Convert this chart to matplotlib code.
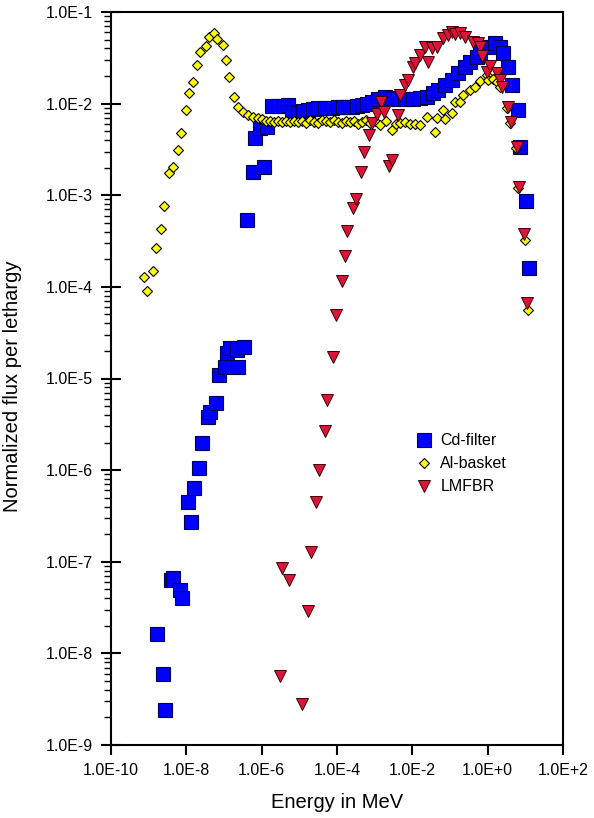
import numpy as np
import matplotlib
matplotlib.use("Agg")
import matplotlib.pyplot as plt
from matplotlib.ticker import FixedLocator, FuncFormatter, LogLocator, NullFormatter

plt.rcParams['font.family'] = ['Liberation Sans', 'DejaVu Sans']

# ---------------- data (Energy in MeV, normalized flux per lethargy) ----------------
cd_energy = [1.67e-9, 2.41e-9, 2.72e-9, 3.94e-9, 4.45e-9, 6.83e-9, 7.71e-9, 1.11e-8, 1.34e-8, 1.61e-8,
             2.18e-8, 2.62e-8, 3.79e-8, 4.28e-8, 6.18e-8, 7.41e-8, 1.07e-7, 1.21e-7, 1.46e-7, 2.23e-7,
             2.37e-7, 3.43e-7, 4.12e-7, 5.94e-7, 1.16e-6, 6.71e-7, 9.12e-7, 1.40e-6, 1.90e-6, 2.75e-6,
             3.96e-6, 5.06e-6, 6.47e-6, 9.33e-6, 1.27e-5, 1.72e-5, 2.34e-5, 3.18e-5, 4.88e-5, 7.48e-5,
             1.08e-4, 1.47e-4, 1.99e-4, 2.54e-4, 3.45e-4, 4.69e-4, 6.37e-4, 8.65e-4, 1.25e-3, 1.91e-3,
             2.94e-3, 4.25e-3, 6.52e-3, 1.06e-2, 1.63e-2, 2.51e-2, 3.61e-2, 4.91e-2, 7.53e-2, 0.116,
             0.167, 0.256, 0.348, 0.535, 0.641, 0.984, 1.61, 2.18, 2.62, 3.56,
             4.55, 6.56, 7.43, 10.7, 12.9]
cd_flux = [1.63e-8, 5.96e-9, 2.41e-9, 6.34e-8, 6.65e-8, 4.92e-8, 4.03e-8, 4.50e-7, 2.72e-7, 6.40e-7,
           1.06e-6, 1.99e-6, 3.82e-6, 4.33e-6, 5.42e-6, 1.10e-5, 1.34e-5, 1.91e-5, 2.16e-5, 2.06e-5,
           1.34e-5, 2.22e-5, 5.41e-4, 1.81e-3, 2.05e-3, 4.25e-3, 5.47e-3, 5.60e-3, 9.50e-3, 9.50e-3,
           9.50e-3, 9.75e-3, 8.17e-3, 7.96e-3, 8.38e-3, 8.59e-3, 8.81e-3, 9.04e-3, 9.04e-3, 9.04e-3,
           9.27e-3, 9.27e-3, 9.27e-3, 9.27e-3, 9.50e-3, 9.75e-3, 1.00e-2, 1.03e-2, 1.11e-2, 1.19e-2,
           1.16e-2, 1.11e-2, 1.13e-2, 1.13e-2, 1.16e-2, 1.19e-2, 1.32e-2, 1.42e-2, 1.61e-2, 1.83e-2,
           2.18e-2, 2.53e-2, 2.87e-2, 3.26e-2, 3.70e-2, 4.19e-2, 4.63e-2, 4.19e-2, 3.60e-2, 2.53e-2,
           1.61e-2, 8.59e-3, 3.39e-3, 8.71e-4, 1.62e-4]

al_energy = [9.06e-10, 7.53e-10, 1.31e-9, 1.57e-9, 2.13e-9, 2.56e-9, 3.48e-9, 4.45e-9, 6.04e-9, 7.24e-9,
             9.84e-9, 1.18e-8, 1.51e-8, 1.93e-8, 2.32e-8, 3.35e-8, 4.03e-8, 5.47e-8, 6.56e-8, 9.48e-8,
             1.14e-7, 1.37e-7, 1.86e-7, 2.37e-7, 3.22e-7, 4.38e-7, 5.94e-7, 8.07e-7,
             1.03e-6, 1.32e-6, 1.68e-6, 2.15e-6, 2.75e-6, 3.51e-6, 4.48e-6, 5.72e-6, 7.31e-6, 9.33e-6,
             1.19e-5, 1.52e-5, 1.95e-5, 2.48e-5, 3.18e-5, 4.05e-5, 5.18e-5, 6.62e-5, 8.45e-5, 1.08e-4,
             1.38e-4, 1.76e-4, 2.25e-4, 2.87e-4, 3.67e-4, 4.69e-4, 5.99e-4, 7.65e-4, 1.04e-3, 1.41e-3,
             2.04e-3, 2.94e-3, 3.76e-3, 4.80e-3, 6.52e-3, 8.85e-3, 1.20e-2, 1.63e-2,
             2.51e-2, 4.08e-2, 4.62e-2, 6.67e-2, 7.53e-2, 0.116, 0.139, 0.189, 0.226, 0.348,
             0.472, 0.641, 0.984, 1.05, 1.42, 1.82, 2.18, 3.35, 4.03, 5.81,
             6.56, 10.1, 12.1]
al_flux = [9.08e-5, 1.29e-4, 1.50e-4, 2.67e-4, 4.31e-4, 7.69e-4, 1.76e-3, 2.05e-3, 3.14e-3, 4.82e-3,
           8.59e-3, 1.29e-2, 1.74e-2, 2.67e-2, 3.70e-2, 4.30e-2, 5.39e-2, 5.96e-2, 5.12e-2, 4.41e-2,
           3.02e-2, 1.97e-2, 1.19e-2, 9.27e-3, 8.17e-3, 7.58e-3, 7.21e-3, 7.03e-3,
           6.85e-3, 6.52e-3, 6.52e-3, 6.35e-3, 6.52e-3, 6.35e-3, 6.52e-3, 6.35e-3, 6.52e-3, 6.35e-3,
           6.52e-3, 6.20e-3, 6.68e-3, 6.35e-3, 6.20e-3, 6.68e-3, 6.52e-3, 6.35e-3, 6.68e-3, 6.35e-3,
           6.20e-3, 6.52e-3, 6.35e-3, 6.52e-3, 6.04e-3, 6.35e-3, 6.68e-3, 6.20e-3, 6.52e-3, 5.89e-3,
           6.52e-3, 5.20e-3, 6.04e-3, 6.20e-3, 6.35e-3, 6.04e-3, 6.04e-3, 5.89e-3,
           7.21e-3, 4.94e-3, 7.03e-3, 8.59e-3, 6.85e-3, 7.96e-3, 1.03e-2, 1.05e-2, 1.25e-2, 1.42e-2,
           1.53e-2, 1.78e-2, 2.07e-2, 1.83e-2, 1.87e-2, 1.74e-2, 1.53e-2, 9.04e-3, 6.20e-3, 3.30e-3,
           1.21e-3, 3.27e-4, 5.62e-5]

lm_energy = [3.10e-6, 3.51e-6, 5.38e-6, 1.19e-5, 1.72e-5, 2.07e-5, 2.81e-5, 3.37e-5, 4.88e-5, 5.51e-5,
             7.94e-5, 9.54e-5, 1.38e-4, 1.66e-4, 1.87e-4, 2.70e-4, 3.25e-4, 4.42e-4, 5.30e-4, 7.19e-4,
             8.65e-4, 1.17e-3, 1.50e-3, 1.80e-3, 2.45e-3, 2.94e-3, 4.25e-3, 4.80e-3, 6.52e-3, 7.83e-3,
             1.06e-2, 1.20e-2, 1.63e-2, 2.22e-2, 2.66e-2, 3.40e-2, 4.62e-2, 6.67e-2, 9.06e-2, 0.116,
             0.139, 0.189, 0.256, 0.418, 0.568, 0.641, 0.724, 0.984, 1.18, 1.82,
             2.18, 2.47, 3.56, 4.28, 6.18, 6.98, 9.48, 11.4]
lm_flux = [5.66e-9, 8.57e-8, 6.34e-8, 2.80e-9, 2.90e-8, 1.28e-7, 4.50e-7, 1.01e-6, 2.69e-6, 5.85e-6,
           1.73e-5, 4.96e-5, 1.17e-4, 2.19e-4, 4.10e-4, 7.31e-4, 9.17e-4, 1.81e-3, 2.99e-3, 4.58e-3,
           6.20e-3, 7.77e-3, 1.03e-2, 8.17e-3, 2.10e-3, 2.44e-3, 7.58e-3, 1.25e-2, 1.61e-2, 1.83e-2,
           2.53e-2, 2.80e-2, 3.43e-2, 4.19e-2, 2.87e-2, 4.09e-2, 4.19e-2, 5.25e-2, 5.67e-2, 6.11e-2,
           5.81e-2, 5.96e-2, 5.39e-2, 4.75e-2, 4.63e-2, 4.19e-2, 3.34e-2, 2.24e-2, 2.60e-2, 2.18e-2,
           1.83e-2, 1.53e-2, 9.27e-3, 6.35e-3, 3.39e-3, 1.24e-3, 3.80e-4, 6.70e-5]

series_labels = ["Cd-filter", "Al-basket", "LMFBR"]
x_ticks = [1e-10, 1e-8, 1e-6, 1e-4, 1e-2, 1e0, 1e2]
y_ticks = [1e-9, 1e-8, 1e-7, 1e-6, 1e-5, 1e-4, 1e-3, 1e-2, 1e-1]

# ---------------- figure ----------------
fig = plt.figure(figsize=(5.94, 8.18), dpi=100)
ax = fig.add_axes([111/594, 1 - 745/818, 452/594, 733/818])

ax.plot(cd_energy, cd_flux, ls='none', marker='s', ms=10, mfc='#0000FF', mec='#000050',
        mew=0.8, label=series_labels[0])
ax.plot(al_energy, al_flux, ls='none', marker='D', ms=5.4, mfc='#FFFF00', mec='#000000',
        mew=0.8, label=series_labels[1])
ax.plot(lm_energy, lm_flux, ls='none', marker='v', ms=8.5, mfc='#DC143C', mec='#3a0000',
        mew=0.7, label=series_labels[2])

ax.set_xscale('log')
ax.set_yscale('log')
ax.set_xlim(1e-10, 1e2)
ax.set_ylim(1e-9, 1e-1)


def sci_fmt(v, pos):
    e = int(round(np.log10(v)))
    return f"1.0E{e:+d}"


ax.xaxis.set_major_locator(FixedLocator(x_ticks))
ax.xaxis.set_major_formatter(FuncFormatter(sci_fmt))
ax.xaxis.set_minor_locator(FixedLocator([]))
ax.yaxis.set_major_locator(FixedLocator(y_ticks))
ax.yaxis.set_major_formatter(FuncFormatter(sci_fmt))
ax.yaxis.set_minor_locator(LogLocator(base=10, subs=np.arange(2, 10), numticks=20))
ax.yaxis.set_minor_formatter(NullFormatter())

ax.tick_params(axis='x', which='major', direction='out', length=7.2, width=1.5,
               labelsize=11.5, pad=5.5, top=False)
ax.tick_params(axis='y', which='major', direction='inout', length=14, width=1.5,
               labelsize=11.5, pad=5.8, right=False)
ax.tick_params(axis='y', which='minor', direction='out', length=5, width=1.0, right=False)

for s in ax.spines.values():
    s.set_linewidth(1.5)

ax.set_xlabel("Energy in MeV", fontsize=14.5)
ax.set_ylabel("Normalized flux per lethargy", fontsize=14.5)
ax.xaxis.set_label_coords(0.5, -0.066)
ax.yaxis.set_label_coords(-0.197, 0.49)

ax.legend(loc='upper left', bbox_to_anchor=(0.672, 0.425), frameon=False, fontsize=11.5,
          borderpad=0, handletextpad=0.4, labelspacing=0.5, handlelength=1.2, borderaxespad=0)

fig.savefig("out.png", dpi=100)
